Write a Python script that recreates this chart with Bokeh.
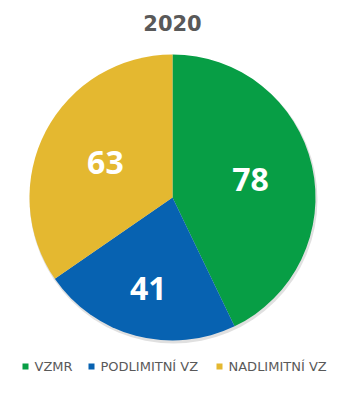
import numpy as np
from bokeh.plotting import figure
from bokeh.models import Range1d, ColumnDataSource
from bokeh.core.properties import value
from bokeh.embed import file_html
from bokeh.resources import INLINE

title = "2020"
categories = ["VZMR", "PODLIMITNÍ VZ", "NADLIMITNÍ VZ"]
counts = [78, 41, 63]
colors = ["#079E45", "#0762B1", "#E4B830"]

W, H = 344, 379
p = figure(width=W, height=H, x_range=Range1d(0, 344), y_range=Range1d(16, 395),
           output_backend="svg", toolbar_location=None, min_border=0)
p.axis.visible = False
p.grid.visible = False
p.outline_line_color = None
p.background_fill_color = "white"

cx, cy, R = 172, 198, 143
vals = np.array(counts, dtype=float)
frac = vals / vals.sum()
ends = np.cumsum(frac) * 2 * np.pi
starts = ends - frac * 2 * np.pi
start_ang = np.pi / 2 - starts
end_ang = np.pi / 2 - ends
mid = (start_ang + end_ang) / 2

# soft shadow
p.circle(x=[cx + 1], y=[cy - 2], radius=R + 1, fill_color="#000000", fill_alpha=0.12, line_color=None)

src = ColumnDataSource(dict(start=start_ang, end=end_ang, color=colors, cat=categories))
p.wedge(x=cx, y=cy, radius=R, start_angle="start", end_angle="end", direction="clock",
        fill_color="color", line_color=None, source=src)

label_frac = np.array([0.56, 0.66, 0.53])
lr = label_frac * R
p.text(x=cx + lr * np.cos(mid), y=cy + lr * np.sin(mid), text=[str(v) for v in counts],
       text_color="white", text_font=value("Open Sans"), text_font_style="bold",
       text_font_size="32px", text_align="center", text_baseline="middle")

p.text(x=[172], y=[373], text=[title], text_color="#595959", text_font=value("DejaVu Sans"),
       text_font_style="bold", text_font_size="21px", text_align="center", text_baseline="middle")

# legend
lx = [25, 91, 219]
ly = 395 - 366
p.rect(x=lx, y=[ly] * 3, width=6, height=6, fill_color=colors, line_color=None)
p.text(x=[v + 9 for v in lx], y=[ly] * 3, text=categories, text_color="#595959",
       text_font=value("DejaVu Sans"), text_font_size="13px", text_align="left", text_baseline="middle")

open("out.html", "w").write(file_html(p, INLINE))
